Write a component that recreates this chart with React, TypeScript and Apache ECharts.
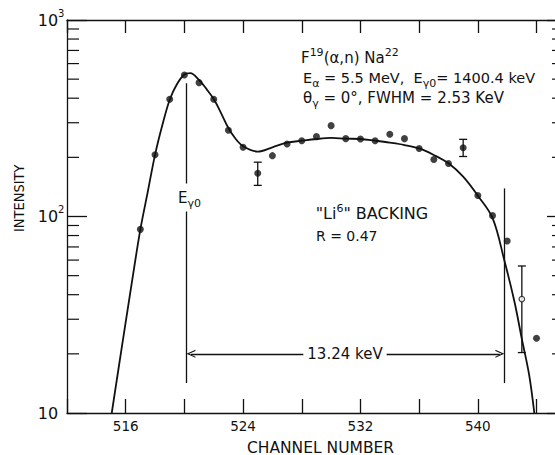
import React, { useEffect, useRef } from "react";
import * as echarts from "echarts";

const INK = "#111111";
const FONT = "'DejaVu Sans', 'Liberation Sans', sans-serif";
const NARROW = "'Liberation Sans Narrow', 'DejaVu Sans Condensed', 'DejaVu Sans', sans-serif";

// axes
const X_MIN = 512;
const X_MAX = 545.6;
const X_INTERVAL = 4;
const Y_MIN = 10;
const Y_MAX = 1000;
const xLabelValues = [516, 524, 532, 540];
const minorTickValues = [20, 30, 40, 50, 60, 70, 80, 90, 200, 300, 400, 500, 600, 700, 800, 900];

// measured points (filled)
const pointChannels = [517, 518, 519, 520, 521, 522, 523, 524, 525, 526, 527, 528, 529, 530, 531, 532, 533, 534, 535, 536, 537, 538, 539, 540, 541, 542, 544];
const pointCounts = [86, 206, 395, 525, 480, 395, 275, 225, 166, 204, 234, 243, 255, 290, 249, 248, 243, 262, 249, 222, 195, 186, 224, 128, 101, 75, 24];
// open point
const openChannels = [543];
const openCounts = [38];
// error bars
const errChannels = [525, 539, 543];
const errLow = [144, 202, 20.3];
const errHigh = [189, 247, 56];

// fitted curve
const curveChannels = [515.05, 515.5, 516, 516.5, 517, 517.5, 518, 518.5, 519, 519.5, 520, 520.4, 521, 521.5, 522, 522.5, 523, 523.5, 524, 525, 526, 527, 528, 529, 530, 531, 532, 533, 534, 535, 536, 537, 538, 539, 540, 541, 541.8, 542.5, 543, 543.5, 543.85];
const curveCounts = [10, 16.6, 29, 50.4, 86, 133, 206, 292, 393, 472, 528, 537, 495, 446, 396, 336, 282, 248, 228, 214, 225, 237.5, 243, 248, 251, 249, 248, 243, 237.5, 231, 222, 205.6, 186.5, 159.4, 127.6, 98.3, 60.1, 36.7, 23.8, 15.6, 10];

// annotation lines
const E_CHANNEL = 520.15;
const E_TOP = 476;
const END_CHANNEL = 541.8;
const END_TOP = 139;
const LINE_BOTTOM = 14.2;
const ARROW_LEVEL = 20;
const ARROW_INSET = 0.3;
const ARROW = "path://M5,0 L10,10 L8.5,10 L5,3 L1.5,10 L0,10 Z";

const mkRich = (fs: number, lh = 22) => ({
  n: { fontSize: fs, fontFamily: FONT, fill: INK, lineHeight: lh, verticalAlign: "middle" },
  sup: { fontSize: Math.round(fs * 0.7), fontFamily: FONT, fill: INK, lineHeight: Math.round(lh / 2), verticalAlign: "top" },
  sub: { fontSize: Math.round(fs * 0.75), fontFamily: FONT, fill: INK, lineHeight: 15, verticalAlign: "bottom" },
});

const tickLine = (len: number) => (params: any, api: any) => {
  const p = api.coord([api.value(0), api.value(1)]);
  return {
    type: "line",
    shape: { x1: p[0], y1: p[1], x2: p[0] + len, y2: p[1] },
    style: { stroke: INK, lineWidth: 1.2 },
  };
};

export default function App() {
  const ref = useRef<HTMLDivElement>(null);
  useEffect(() => {
    if (!ref.current) return;
    const chart = echarts.init(ref.current, null, { renderer: "svg" });
    const axisLine = { show: true, onZero: false, lineStyle: { color: INK, width: 1.3 } };
    const option: any = {
      animation: false,
      backgroundColor: "#fff",
      grid: { left: 67, right: -5, top: 20, bottom: 42, containLabel: false, outerBoundsMode: "none" },
      xAxis: [
        {
          type: "value", min: X_MIN, max: X_MAX, interval: X_INTERVAL, position: "bottom",
          axisLine,
          axisTick: { show: true, inside: true, length: 14, lineStyle: { color: INK, width: 1.3 } },
          axisLabel: {
            show: true, margin: 6, color: INK, fontSize: 13.5, fontFamily: FONT,
            formatter: (v: number) => (xLabelValues.indexOf(Math.round(v)) >= 0 && Math.abs(v - Math.round(v)) < 1e-6 ? String(Math.round(v)) : ""),
          },
          splitLine: { show: false },
        },
        {
          type: "value", min: X_MIN, max: X_MAX, interval: X_INTERVAL, position: "top",
          axisLine,
          axisTick: { show: true, inside: true, length: 13, lineStyle: { color: INK, width: 1.3 } },
          axisLabel: { show: false },
          splitLine: { show: false },
        },
      ],
      yAxis: [
        {
          type: "log", logBase: 10, min: Y_MIN, max: Y_MAX, position: "left",
          axisLine,
          axisTick: { show: true, inside: true, length: 20, lineStyle: { color: INK, width: 1.3 } },
          axisLabel: {
            show: true, margin: 29.3, align: "left", color: INK,
            formatter: (v: number) => {
              const e = Math.round(Math.log10(v));
              return e === 1 ? "{b|10}" : "{b|10}{s|" + e + "}";
            },
            rich: {
              b: { fontSize: 16, fontFamily: FONT, color: INK, lineHeight: 24, verticalAlign: "middle" },
              s: { fontSize: 10, fontFamily: FONT, color: INK, lineHeight: 12, verticalAlign: "top" },
            },
          },
          splitLine: { show: false },
        },
        {
          type: "log", logBase: 10, min: Y_MIN, max: Y_MAX, position: "right",
          axisLine,
          axisTick: { show: true, inside: true, length: 13, lineStyle: { color: INK, width: 1.3 } },
          axisLabel: { show: false },
          splitLine: { show: false },
        },
      ],
      series: [
        {
          type: "line",
          data: curveChannels.map((c, i) => [c, curveCounts[i]]),
          smooth: 0.35,
          showSymbol: false,
          symbol: "none",
          lineStyle: { color: INK, width: 1.8 },
          z: 3,
          silent: true,
          markLine: {
            silent: true,
            symbol: ["none", "none"],
            animation: false,
            label: { show: false },
            emphasis: { disabled: true },
            lineStyle: { color: INK, width: 1.3, type: "solid" },
            data: [
              [{ coord: [E_CHANNEL, E_TOP] }, { coord: [E_CHANNEL, LINE_BOTTOM] }],
              [{ coord: [END_CHANNEL, END_TOP] }, { coord: [END_CHANNEL, LINE_BOTTOM] }],
              [
                { coord: [E_CHANNEL + ARROW_INSET, ARROW_LEVEL], symbol: ARROW, symbolSize: [8, 9] },
                { coord: [END_CHANNEL - ARROW_INSET, ARROW_LEVEL], symbol: ARROW, symbolSize: [8, 9] },
              ],
            ],
          },
        },
        {
          type: "custom",
          data: errChannels.map((c, i) => [c, errLow[i], errHigh[i]]),
          encode: { x: 0, y: [1, 2] },
          z: 4,
          silent: true,
          renderItem: (params: any, api: any) => {
            const x = api.value(0);
            const lo = api.coord([x, api.value(1)]);
            const hi = api.coord([x, api.value(2)]);
            const w = 4;
            const style = { stroke: INK, lineWidth: 1.3 };
            return {
              type: "group",
              children: [
                { type: "line", shape: { x1: lo[0], y1: lo[1], x2: hi[0], y2: hi[1] }, style },
                { type: "line", shape: { x1: lo[0] - w, y1: lo[1], x2: lo[0] + w, y2: lo[1] }, style },
                { type: "line", shape: { x1: hi[0] - w, y1: hi[1], x2: hi[0] + w, y2: hi[1] }, style },
              ],
            };
          },
        },
        {
          type: "scatter",
          data: pointChannels.map((c, i) => [c, pointCounts[i]]),
          symbol: "circle",
          symbolSize: 7,
          itemStyle: { color: INK },
          z: 5,
          silent: true,
        },
        {
          type: "scatter",
          data: openChannels.map((c, i) => [c, openCounts[i]]),
          symbol: "circle",
          symbolSize: 5.5,
          itemStyle: { color: "#fff", borderColor: INK, borderWidth: 1.2 },
          z: 6,
          silent: true,
        },
        {
          type: "custom",
          data: minorTickValues.map((v) => [X_MIN, v]),
          encode: { x: 0, y: 1 },
          silent: true,
          clip: false,
          renderItem: tickLine(12),
        },
        {
          type: "custom",
          yAxisIndex: 1,
          data: minorTickValues.map((v) => [X_MAX, v]),
          encode: { x: 0, y: 1 },
          silent: true,
          clip: false,
          renderItem: tickLine(-8),
        },
      ],
      graphic: [
        { type: "text", x: 301, y: 58, z: 100, style: { text: "{n|F}{sup|19}{n|(α,n) Na}{sup|22}", rich: mkRich(15), align: "left", verticalAlign: "middle" } },
        { type: "text", x: 303, y: 78, z: 100, style: { text: "{n|E}{sub|α}{n| = 5.5 MeV,  E}{sub|γ0}{n|= 1400.4 keV}", rich: mkRich(14.5), align: "left", verticalAlign: "middle" } },
        { type: "text", x: 303, y: 98, z: 100, style: { text: "{n|θ}{sub|γ}{n| = 0°, FWHM = 2.53 KeV}", rich: mkRich(15), align: "left", verticalAlign: "middle" } },
        { type: "text", x: 177, y: 197.5, z: 100, style: { text: "{n|E}{sub|γ0}", rich: mkRich(15), align: "left", verticalAlign: "middle", backgroundColor: "#fff", padding: [3, 1] } },
        { type: "text", x: 315.7, y: 213.7, z: 100, style: { text: '{n|"Li}{sup|6}{n|" BACKING}', rich: mkRich(16), align: "left", verticalAlign: "middle" } },
        { type: "text", x: 316, y: 235.7, z: 100, style: { text: "R = 0.47", font: "14px " + FONT, fill: INK, align: "left", verticalAlign: "middle" } },
        { type: "text", x: 345, y: 354.3, z: 100, style: { text: "13.24 keV", font: "15px " + FONT, fill: INK, align: "center", verticalAlign: "middle", backgroundColor: "#fff", padding: [2, 4] } },
        { type: "text", x: 320.5, y: 447.5, z: 100, style: { text: "CHANNEL NUMBER", font: "15.5px " + FONT, fill: INK, align: "center", verticalAlign: "middle" } },
        { type: "text", x: 19.3, y: 198.3, z: 100, rotation: Math.PI / 2, style: { text: "INTENSITY", font: "14.5px " + NARROW, fill: INK, align: "center", verticalAlign: "middle" } },
      ],
    };
    chart.setOption(option);
    return () => chart.dispose();
  }, []);
  return <div ref={ref} style={{ position: "absolute", left: 0, top: 0, width: 555, height: 455, background: "#fff" }} />;
}
